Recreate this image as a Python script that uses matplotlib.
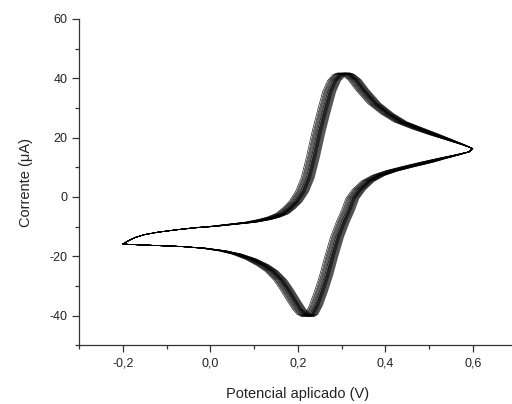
import numpy as np
import matplotlib
matplotlib.use("Agg")
import matplotlib.pyplot as plt
from matplotlib.ticker import MultipleLocator, FuncFormatter

plt.rcParams["font.family"] = ["Liberation Sans", "DejaVu Sans"]

# first cycle: forward (anodic) scan -0.2 -> 0.6 V
fwd_E = [-0.200, -0.185, -0.170, -0.150, -0.120, -0.080, -0.040, 0.000, 0.040,
         0.080, 0.110, 0.130, 0.150, 0.165, 0.180, 0.195, 0.208, 0.220, 0.232,
         0.245, 0.257, 0.268, 0.280, 0.290, 0.300, 0.315, 0.333, 0.360, 0.390,
         0.420, 0.460, 0.500, 0.540, 0.575, 0.600]
fwd_I = [-15.9, -14.6, -13.6, -12.7, -11.9, -11.1, -10.4, -9.9, -9.2,
         -8.5, -7.6, -6.8, -5.6, -3.8, -1.6, 1.8, 6.5, 13.5, 21.5,
         29.0, 35.5, 39.2, 41.2, 41.8, 41.3, 39.5, 36.0, 31.5, 28.0,
         25.3, 23.0, 21.0, 19.2, 17.6, 16.3]

# reverse (cathodic) scan 0.6 -> -0.2 V
rev_E = [0.600, 0.590, 0.560, 0.520, 0.480, 0.440, 0.400, 0.370, 0.345, 0.325,
         0.310, 0.300, 0.288, 0.275, 0.262, 0.250, 0.238, 0.226, 0.216, 0.208,
         0.198, 0.188, 0.175, 0.160, 0.145, 0.125, 0.105, 0.080, 0.050, 0.020,
         -0.020, -0.070, -0.120, -0.170, -0.200]
rev_I = [16.3, 15.2, 14.2, 13.0, 11.7, 10.3, 8.8, 7.3, 5.3, 2.5,
         -0.5, -4.5, -8.5, -13.5, -20.0, -26.5, -32.0, -36.8, -39.6, -40.3,
         -39.5, -37.8, -34.8, -31.2, -28.0, -25.0, -23.0, -21.0, -19.3, -18.2,
         -17.3, -16.7, -16.4, -16.1, -15.9]

# peak drift of each later cycle relative to the first (V)
cycle_shift = [0.000, 0.003, 0.005, 0.007, 0.009, 0.011, 0.012, 0.014,
               0.015, 0.016, 0.017, 0.018, 0.019, 0.020, 0.021, 0.022,
               0.023, 0.024, 0.025, 0.026, 0.027, 0.028, 0.029, 0.030]

E = np.array(fwd_E + rev_E)
I = np.array(fwd_I + rev_I)
# drift only shows in the redox region, the switching points stay put
taper = np.clip((E + 0.1) / 0.2, 0, 1) * np.clip((0.6 - E) / 0.12, 0, 1)

fig = plt.figure(figsize=(5.12, 4.04), dpi=100)
ax = fig.add_axes([0.1543, 0.1455, 0.8545, 0.8075])

for k, s in enumerate(cycle_shift):
    ax.plot(E + s * taper, I, color="black", linewidth=0.5,
            alpha=0.85 if k < 16 else 0.55)

ax.set_xlim(-0.3, 0.7)
ax.set_ylim(-50, 60)
for side in ["top", "right"]:
    ax.spines[side].set_visible(False)
for side in ["left", "bottom"]:
    ax.spines[side].set_linewidth(0.9)
    ax.spines[side].set_color("#333333")

ax.xaxis.set_major_locator(MultipleLocator(0.2))
ax.xaxis.set_minor_locator(MultipleLocator(0.1))
ax.yaxis.set_major_locator(MultipleLocator(20))
ax.yaxis.set_minor_locator(MultipleLocator(10))
ax.set_xticks([-0.2, 0.0, 0.2, 0.4, 0.6])
ax.xaxis.set_major_formatter(FuncFormatter(lambda v, p: f"{v:.1f}".replace(".", ",").replace("-0,0", "0,0")))
ax.yaxis.set_major_formatter(FuncFormatter(lambda v, p: f"{v:.0f}"))
ax.tick_params(which="major", direction="out", length=5, width=0.9,
               labelsize=9, colors="#333333", labelcolor="#222222")
ax.tick_params(which="minor", direction="out", length=3, width=0.9, colors="#333333")

ax.set_xlabel("Potencial aplicado (V)", fontsize=10.5, labelpad=13, color="#222222")
ax.set_ylabel("Corrente (\u03bcA)", fontsize=10.5, labelpad=12, color="#222222")

fig.savefig("out.png", dpi=100)
